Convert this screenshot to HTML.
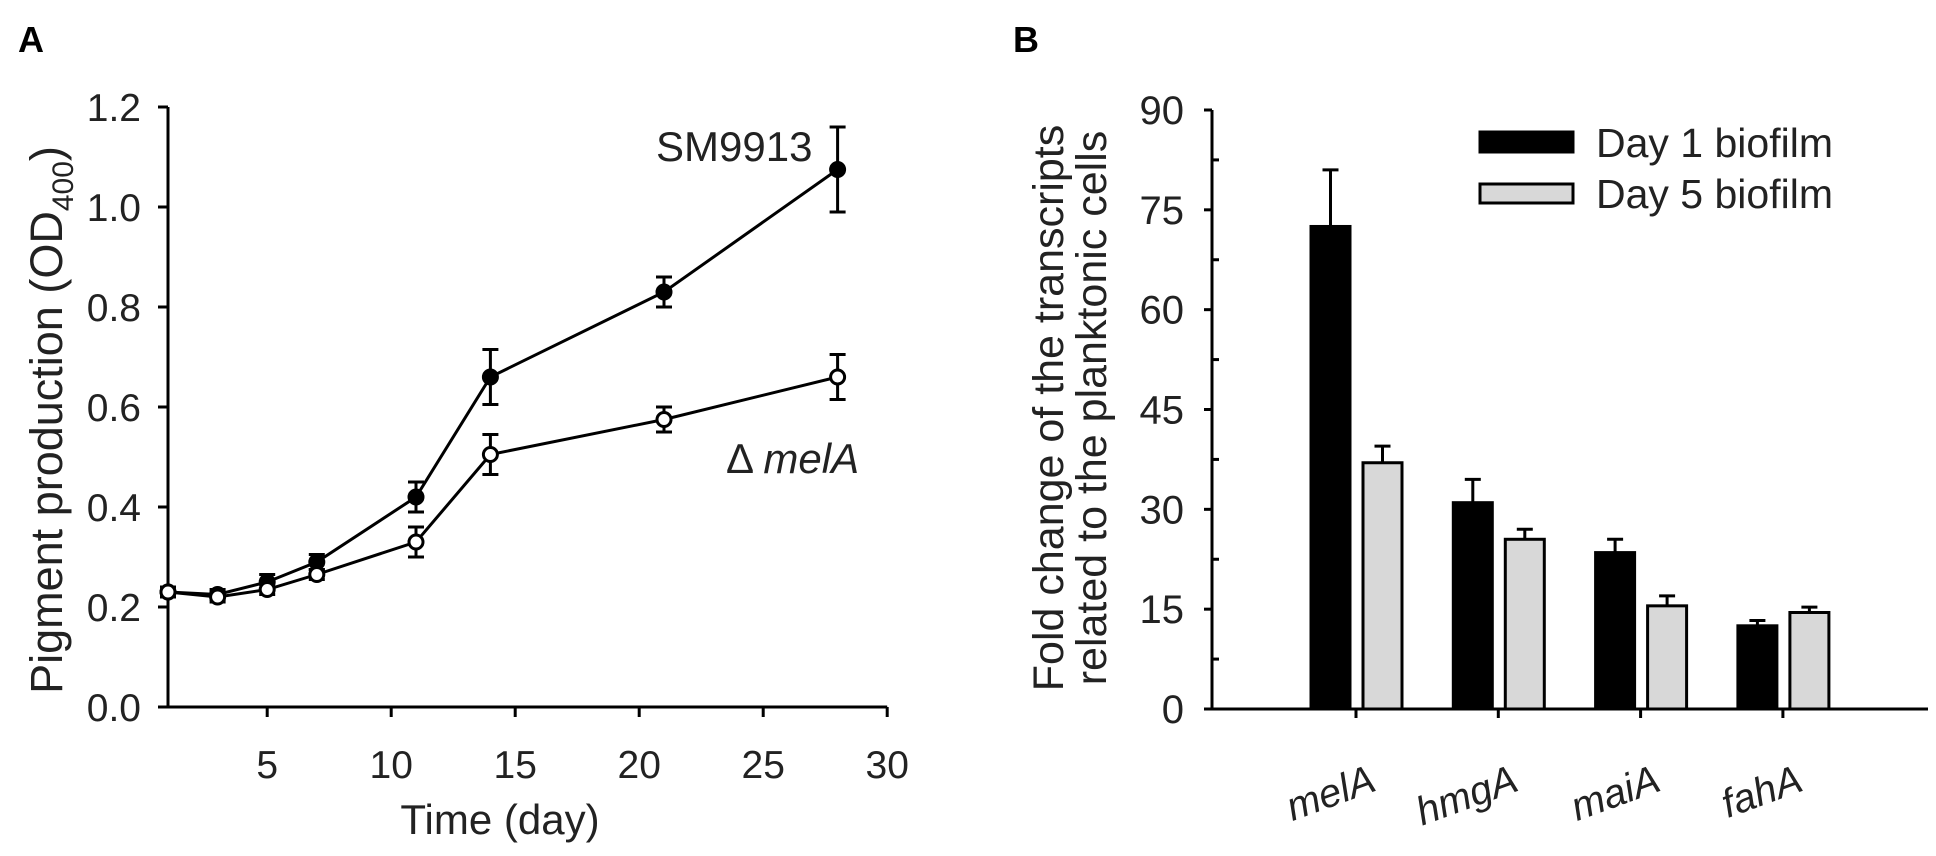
<!DOCTYPE html>
<html><head><meta charset="utf-8"><style>
html,body{margin:0;padding:0;background:#fff;}
svg{display:block;font-family:"Liberation Sans",Arial,sans-serif;}
</style></head><body>
<svg id="fig" width="1936" height="856" viewBox="0 0 1936 856"></svg>
<script>
// ---------- Panel A data ----------
const daysA = [1,3,5,7,11,14,21,28];
const wildType = [0.23,0.225,0.25,0.29,0.42,0.66,0.83,1.075];
const wildTypeErr = [0.01,0.01,0.015,0.015,0.03,0.055,0.03,0.085];
const mutant = [0.23,0.22,0.235,0.265,0.33,0.505,0.575,0.66];
const mutantErr = [0.01,0.01,0.01,0.01,0.03,0.04,0.025,0.045];
const xTicksA = [5,10,15,20,25,30];
const yTicksA = ["0.0","0.2","0.4","0.6","0.8","1.0","1.2"];
// ---------- Panel B data ----------
const genes = ["melA","hmgA","maiA","fahA"];
const day1 = [72.5,31,23.5,12.5];
const day1Err = [8.5,3.5,2,0.8];
const day5 = [37,25.5,15.5,14.5];
const day5Err = [2.5,1.5,1.5,0.8];
const yTicksB = [0,15,30,45,60,75,90];

const NS="http://www.w3.org/2000/svg";
const svg=document.getElementById('fig');
function mk(tag,attrs,parent){const e=document.createElementNS(NS,tag);for(const k in attrs)e.setAttribute(k,attrs[k]);(parent||svg).appendChild(e);return e;}
function txt(s,attrs,parent){const e=mk('text',attrs,parent);e.textContent=s;return e;}

// ===== Panel A =====
const gA=mk('g',{});


const xA=d=>168+(d-1)*24.8;
const yA=v=>707-v*500;
let t=txt('A',{x:18,y:52,'font-size':36,'font-weight':'bold'},gA);

let ax=mk('path',{d:`M168 107 V707 H${xA(30)}`,stroke:'#000','stroke-width':3,fill:'none'},gA);

yTicksA.forEach(l=>{const v=parseFloat(l);const y=yA(v);
 mk('line',{x1:158,x2:168,y1:y,y2:y,stroke:'#000','stroke-width':3},gA);
 const e=txt(l,{x:141,y:y+14,'font-size':39,'text-anchor':'end',fill:'#222'},gA);
 });
xTicksA.forEach(d=>{const x=xA(d);
 mk('line',{x1:x,x2:x,y1:707,y2:717,stroke:'#000','stroke-width':3},gA);
 const e=txt(String(d),{x:x,y:778,'font-size':39,'text-anchor':'middle',fill:'#222'},gA);
 });
t=txt('Time (day)',{x:500,y:834,'font-size':42,'text-anchor':'middle',fill:'#222'},gA);

t=mk('text',{x:0,y:0,'font-size':45,'text-anchor':'middle',fill:'#222',transform:'translate(62,420) rotate(-90)'},gA);
t.innerHTML='Pigment production (OD<tspan font-size="30" dy="11">400</tspan><tspan dy="-11">)</tspan>';

function series(vals,errs,filled,name){
 const g=mk('g',{},gA);
 
 mk('polyline',{points:daysA.map((d,i)=>xA(d)+','+yA(vals[i])).join(' '),fill:'none',stroke:'#000','stroke-width':3},g);
 daysA.forEach((d,i)=>{const x=xA(d),y1=yA(vals[i]-errs[i]),y2=yA(vals[i]+errs[i]);
  mk('path',{d:`M${x} ${y1} V${y2} M${x-8} ${y1} H${x+8} M${x-8} ${y2} H${x+8}`,stroke:'#000','stroke-width':3,fill:'none'},g);
  const c=mk('circle',{cx:x,cy:yA(vals[i]),r:7,fill:filled?'#000':'#fff',stroke:'#000','stroke-width':3},g);
  });
}
series(wildType,wildTypeErr,true,'series-sm9913');
series(mutant,mutantErr,false,'series-delta-mela');
t=txt('SM9913',{x:656,y:161,'font-size':42,fill:'#222'},gA);

t=mk('text',{x:726,y:473,'font-size':42,fill:'#222'},gA);
t.innerHTML='Δ <tspan font-style="italic">melA</tspan>';


// ===== Panel B =====
const gB=mk('g',{});


const yB=v=>709-v*(599/90);
const cx0=1356, step=142.3;
t=txt('B',{x:1013,y:52,'font-size':36,'font-weight':'bold'},gB);

ax=mk('path',{d:`M1212 ${yB(90)} V709 M1204 709 H1928`,stroke:'#000','stroke-width':3,fill:'none'},gB);

yTicksB.forEach(v=>{const y=yB(v);
 mk('line',{x1:1204,x2:1212,y1:y,y2:y,stroke:'#000','stroke-width':3},gB);
 if(v<90){const ym=yB(v+7.5);mk('line',{x1:1212,x2:1219,y1:ym,y2:ym,stroke:'#000','stroke-width':3},gB);}
 const e=txt(String(v),{x:1184,y:y+14,'font-size':40,'text-anchor':'end',fill:'#222'},gB);
 });
t=mk('text',{x:0,y:0,'font-size':43,'text-anchor':'middle',fill:'#222',transform:'translate(1063,408) rotate(-90)'},gB);
t.textContent='Fold change of the transcripts';

t=mk('text',{x:0,y:0,'font-size':43,'text-anchor':'middle',fill:'#222',transform:'translate(1106,408) rotate(-90)'},gB);
t.textContent='related to the planktonic cells';

genes.forEach((gname,i)=>{const cx=cx0+i*step;
 mk('line',{x1:cx,x2:cx,y1:709,y2:718,stroke:'#000','stroke-width':3},gB);
 const l=mk('text',{x:0,y:0,'font-size':40,'font-style':'italic','text-anchor':'end',fill:'#222',transform:`translate(${cx+22},790) rotate(-20)`},gB);
 l.textContent=gname;
 
 [[day1,day1Err,'#000',cx-45],[day5,day5Err,'#d8d8d8',cx+7]].forEach(([vals,errs,fill,x0])=>{
  const v=vals[i],w=39,xc=x0+w/2;
  mk('path',{d:`M${xc} ${yB(v)} V${yB(v+errs[i])} M${xc-8} ${yB(v+errs[i])} H${xc+8}`,stroke:'#000','stroke-width':3,fill:'none'},gB);
  const r=mk('rect',{x:x0,y:yB(v),width:w,height:709-yB(v),fill:fill,stroke:'#000','stroke-width':3},gB);
  
 });
});
const lg=mk('g',{},gB);

mk('rect',{x:1480,y:132,width:93,height:20,fill:'#000',stroke:'#000','stroke-width':3},lg);
mk('rect',{x:1480,y:184,width:93,height:19,fill:'#d8d8d8',stroke:'#000','stroke-width':3},lg);
t=txt('Day 1 biofilm',{x:1596,y:157,'font-size':41,fill:'#222'},lg);

t=txt('Day 5 biofilm',{x:1596,y:208,'font-size':41,fill:'#222'},lg);

</script>
</body></html>
